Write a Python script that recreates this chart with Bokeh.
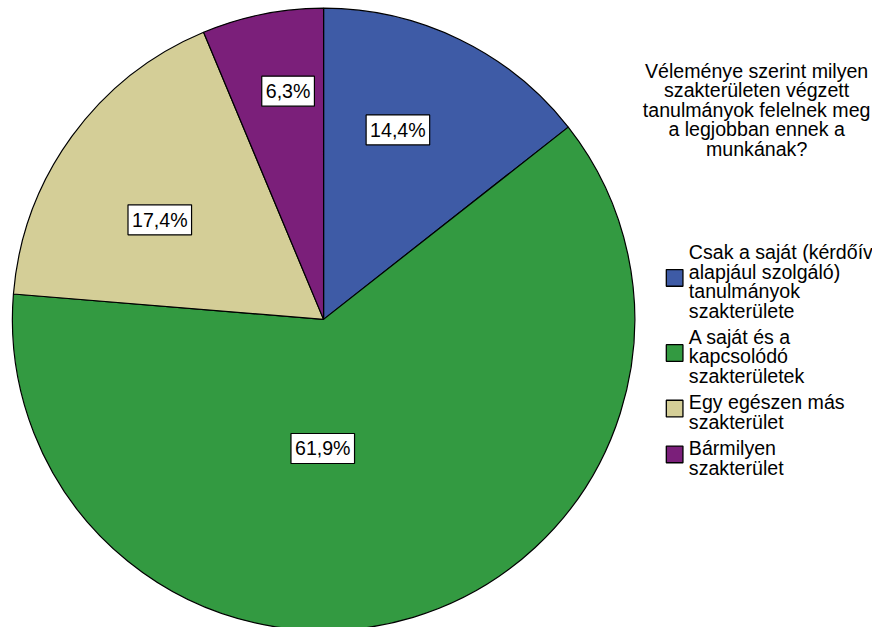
import numpy as np
from bokeh.plotting import figure
from bokeh.models import Range1d, Label, ColumnDataSource
from bokeh.embed import file_html
from bokeh.resources import INLINE
from bokeh.core.properties import value

# ---------------- data ----------------
categories = [
    "Csak a saját (kérdőív\nalapjául szolgáló)\ntanulmányok\nszakterülete",
    "A saját és a\nkapcsolódó\nszakterületek",
    "Egy egészen más\nszakterület",
    "Bármilyen\nszakterület",
]
percent = [14.4, 61.9, 17.4, 6.3]
pct_labels = ["14,4%", "61,9%", "17,4%", "6,3%"]
colors = ["#3E5BA6", "#339A41", "#D4CE97", "#7B1F7A"]
title_text = "Véleménye szerint milyen\nszakterületen végzett\ntanulmányok felelnek meg\na legjobban ennek a\nmunkának?"

# ---------------- layout ----------------
W, H = 872, 627
SX, SY = W / 888, H / 643
S = (SX + SY) / 2
FONT = "Liberation Sans"
FS = "%.1fpx" % (20 * S)


def fx(xr):
    return xr * SX


def fy(yr):
    return H - yr * SY


CX, CY, R = fx(329), fy(327), 318 * S
label_r_frac = [0.654, 0.415, 0.616, 0.742]
label_shift_deg = [4.5, -17.1, 4.7, -2.5]

p = figure(width=W, height=H, x_range=Range1d(0, W), y_range=Range1d(0, H),
           output_backend="svg", toolbar_location=None, min_border=0,
           x_axis_location=None, y_axis_location=None)
p.grid.visible = False
p.outline_line_color = None
p.background_fill_color = "white"
p.border_fill_color = "white"

frac = np.array(percent) / np.sum(percent)
cum = np.concatenate([[0.0], np.cumsum(frac)])
start = np.pi / 2 - 2 * np.pi * cum[:-1]
end = np.pi / 2 - 2 * np.pi * cum[1:]

src = ColumnDataSource(dict(start=start, end=end, color=colors))
p.wedge(x=CX, y=CY, radius=R, start_angle="start", end_angle="end",
        direction="clock", fill_color="color", line_color="black",
        line_width=1.2, source=src)

mid = (start + end) / 2
for i, txt in enumerate(pct_labels):
    a = mid[i] + np.deg2rad(label_shift_deg[i])
    lx = CX + label_r_frac[i] * R * np.cos(a)
    ly = CY + label_r_frac[i] * R * np.sin(a)
    p.add_layout(Label(x=lx, y=ly, text=txt, text_align="center",
                       text_baseline="middle", text_font=FONT,
                       text_font_size=FS, text_color="black",
                       background_fill_color="white",
                       border_line_color="black", border_line_width=1.2,
                       padding=4))

# title
t_lines = title_text.split("\n")
LS = 20
ty0 = 72
p.text(x=[fx(770)] * len(t_lines), y=[fy(ty0 + i * LS) for i in range(len(t_lines))],
       text=t_lines, text_align="center", text_baseline="middle",
       text_font=value(FONT), text_font_size=FS, text_color="black")

# legend
y_cur = 258
GAP = 27
for i, cat in enumerate(categories):
    lines = cat.split("\n")
    ys = [y_cur + k * LS for k in range(len(lines))]
    p.text(x=[fx(701)] * len(lines), y=[fy(v) for v in ys], text=lines,
           text_align="left", text_baseline="middle",
           text_font=value(FONT), text_font_size=FS, text_color="black")
    mid_y = (ys[0] + ys[-1]) / 2 - 3.5
    p.rect(x=[fx(686.5)], y=[fy(mid_y)], width=17 * S, height=17 * S,
           fill_color=colors[i], line_color="black", line_width=1.3)
    y_cur = ys[-1] + GAP

open("out.html", "w").write(file_html(p, INLINE))
